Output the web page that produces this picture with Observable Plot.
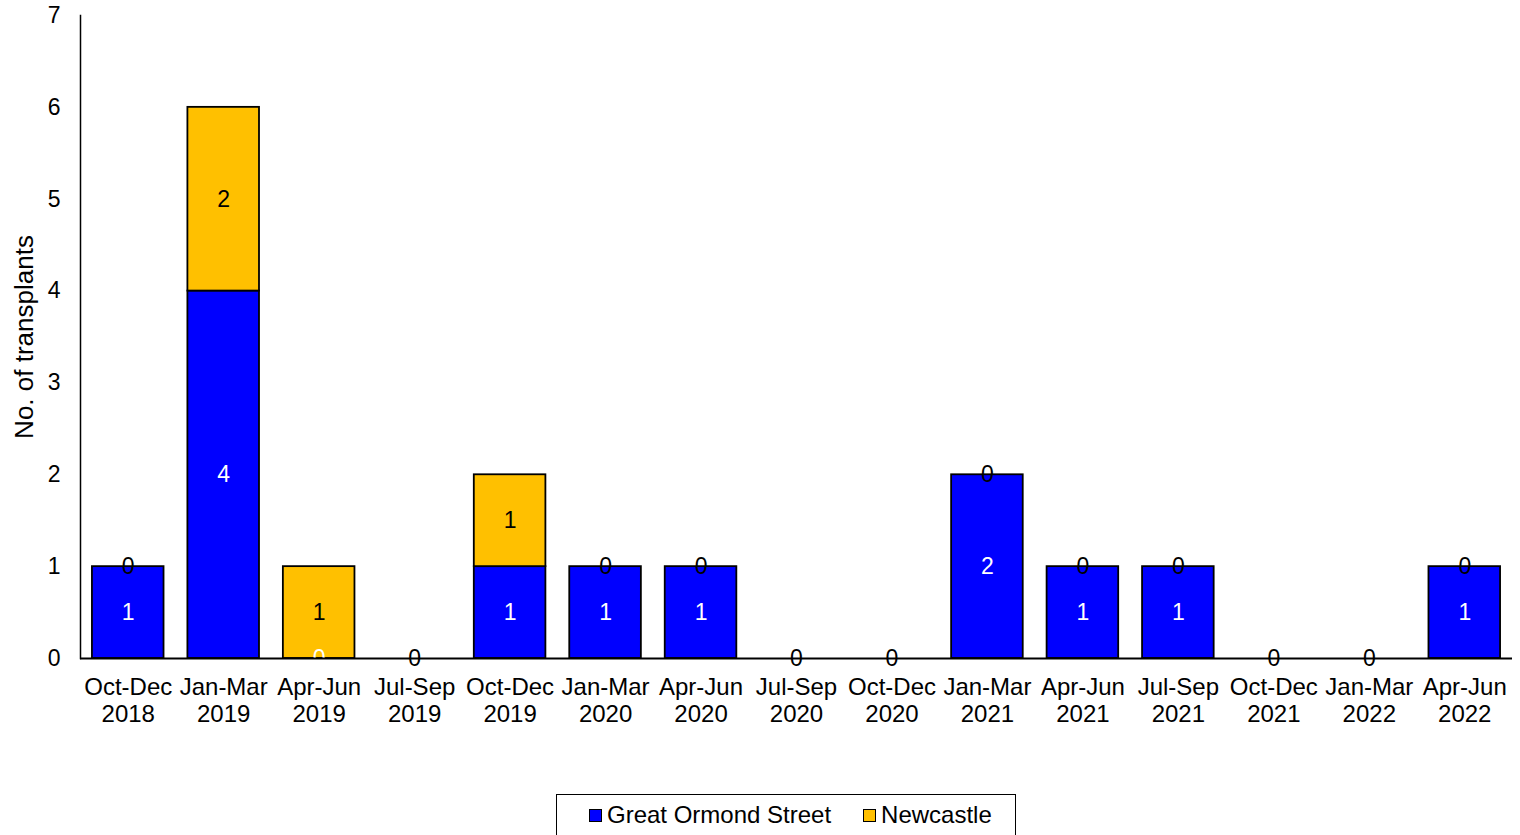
<!DOCTYPE html>
<html>
<head>
<meta charset="utf-8">
<script src="https://cdn.jsdelivr.net/npm/d3@7"></script>
<script src="https://cdn.jsdelivr.net/npm/@observablehq/plot@0.6"></script>
<style>
  body { margin: 0; background: #fff; font-family: "Liberation Sans", Arial, sans-serif; }
</style>
</head>
<body>
<div id="chart"></div>
<script>
const quarters = ["Oct-Dec 2018","Jan-Mar 2019","Apr-Jun 2019","Jul-Sep 2019","Oct-Dec 2019","Jan-Mar 2020","Apr-Jun 2020","Jul-Sep 2020","Oct-Dec 2020","Jan-Mar 2021","Apr-Jun 2021","Jul-Sep 2021","Oct-Dec 2021","Jan-Mar 2022","Apr-Jun 2022"];
const gos =       [1,4,0,0,1,1,1,0,0,2,1,1,0,0,1];
const newcastle = [0,2,1,0,1,0,0,0,0,0,0,0,0,0,0];
const seriesNames = ["Great Ormond Street","Newcastle"];
const seriesColors = ["#0000FF","#FFC000"];
const labelColors = ["#FFFFFF","#000000"];
const yTicks = [0,1,2,3,4,5,6,7];
const yTitle = "No. of transplants";

const rows = [];
quarters.forEach((q,i) => rows.push({quarter:q, series:seriesNames[0], value:gos[i]}));
quarters.forEach((q,i) => rows.push({quarter:q, series:seriesNames[1], value:newcastle[i]}));

const chart = Plot.plot({
  width: 1520,
  height: 790,
  marginTop: 15,
  marginLeft: 80,
  marginRight: 8,
  marginBottom: 132,
  style: {fontFamily: "'Liberation Sans', Arial, sans-serif", fontSize: "23px", color: "#000", overflow: "visible"},
  x: {domain: quarters, padding: 0.25, paddingOuter: 0.125, round: false, label: null},
  y: {domain: [0,7], label: null},
  color: {domain: seriesNames, range: seriesColors},
  marks: [
    Plot.barY(rows, {x:"quarter", y:"value", fill:"series", stroke:"#000", strokeWidth:1.8, order: seriesNames}),
    Plot.text(rows, Plot.stackY({x:"quarter", y:"value", z:"series", order: seriesNames, text: d => String(d.value), fill: d => labelColors[seriesNames.indexOf(d.series)], fontSize: 23})),
    Plot.axisY({ticks: yTicks, tickFormat: d3.format("d"), tickSize: 0, tickPadding: 20, fontSize: 23, label: null}),
    Plot.axisX({tickSize: 0, tickPadding: 17, fontSize: 24, lineHeight: 1.125, tickFormat: d => d.replace(" ", "\n"), label: null}),
    Plot.text([yTitle], {frameAnchor: "left", textAnchor: "middle", text: d => d, rotate: -90, dx: -56, fontSize: 26, fill: "#000"}),
    Plot.frame({anchor: "left", stroke: "#000", strokeWidth: 1.5, strokeOpacity: 1}),
    Plot.ruleY([0], {stroke: "#000", strokeWidth: 1.8})
  ]
});
const host = document.getElementById("chart");
host.appendChild(chart);

const legend = document.createElement("div");
legend.style.cssText = "margin-left:556px;margin-top:4px;width:460px;height:44px;border:1.5px solid #000;box-sizing:border-box;font-size:24px;color:#000;display:flex;align-items:flex-start;padding-top:6px;padding-left:32px;font-family:'Liberation Sans',Arial,sans-serif;";
const gaps = [0, 32];
seriesNames.forEach((n,i) => {
  const it = document.createElement("div");
  it.style.cssText = "display:flex;align-items:center;margin-left:" + gaps[i] + "px;";
  const sw = document.createElement("div");
  sw.style.cssText = "width:11px;height:11px;border:1px solid #000;margin-right:5px;background:" + seriesColors[i] + ";";
  const t = document.createElement("span");
  t.textContent = n;
  it.appendChild(sw); it.appendChild(t);
  legend.appendChild(it);
});
document.body.appendChild(legend);
</script>
</body>
</html>
